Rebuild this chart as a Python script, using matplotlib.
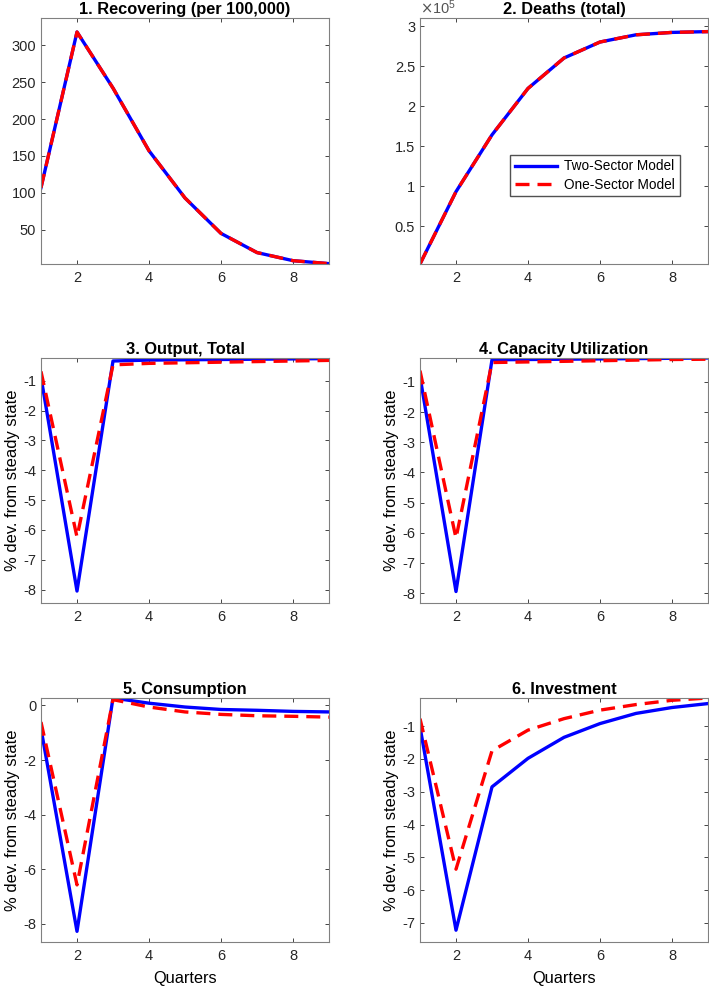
import numpy as np
import matplotlib
matplotlib.use("Agg")
import matplotlib.pyplot as plt
from matplotlib.ticker import ScalarFormatter

plt.rcParams['font.family'] = ['Liberation Sans', 'DejaVu Sans']
plt.rcParams['axes.unicode_minus'] = False

quarters = [1, 2, 3, 4, 5, 6, 7, 8, 9]

# panel data (two-sector = blue, one-sector = red)
recovering_two = [107, 318, 242, 157, 93, 45, 19, 8, 4]
recovering_one = [107, 318, 242, 157, 93, 45, 19, 8, 4]
deaths_two = [0.026e5, 0.93e5, 1.64e5, 2.22e5, 2.60e5, 2.80e5, 2.89e5, 2.92e5, 2.93e5]
deaths_one = [0.026e5, 0.93e5, 1.64e5, 2.22e5, 2.60e5, 2.80e5, 2.89e5, 2.92e5, 2.93e5]
output_two = [-0.88, -8.05, -0.34, -0.31, -0.30, -0.29, -0.28, -0.27, -0.26]
output_one = [-0.69, -6.24, -0.47, -0.42, -0.40, -0.38, -0.36, -0.34, -0.32]
capacity_two = [-0.82, -7.95, -0.27, -0.26, -0.25, -0.24, -0.23, -0.22, -0.21]
capacity_one = [-0.63, -6.18, -0.36, -0.34, -0.32, -0.30, -0.28, -0.26, -0.25]
consumption_two = [-0.85, -8.27, 0.27, 0.08, -0.06, -0.15, -0.18, -0.22, -0.24]
consumption_one = [-0.61, -6.57, 0.21, -0.06, -0.24, -0.33, -0.38, -0.40, -0.43]
investment_two = [-1.02, -7.22, -2.85, -1.98, -1.34, -0.92, -0.61, -0.43, -0.31]
investment_one = [-0.77, -5.36, -1.75, -1.12, -0.77, -0.51, -0.34, -0.21, -0.14]

titles = ['1. Recovering (per 100,000)', '2. Deaths (total)', '3. Output, Total',
          '4. Capacity Utilization', '5. Consumption', '6. Investment']
series = [(recovering_two, recovering_one), (deaths_two, deaths_one),
          (output_two, output_one), (capacity_two, capacity_one),
          (consumption_two, consumption_one), (investment_two, investment_one)]
ylims = [(3.5, 337), (0.026e5, 3.1e5), (-8.45, -0.24), (-8.33, -0.21),
         (-8.66, 0.27), (-7.58, -0.14)]
yticks = [[50, 100, 150, 200, 250, 300],
          [0.5e5, 1e5, 1.5e5, 2e5, 2.5e5, 3e5],
          [-8, -7, -6, -5, -4, -3, -2, -1],
          [-8, -7, -6, -5, -4, -3, -2, -1],
          [-8, -6, -4, -2, 0],
          [-7, -6, -5, -4, -3, -2, -1]]


class PlainSci(ScalarFormatter):
    # matlab style: 2.5, 2, 1.5 ... with x10^5 on top
    def _set_format(self):
        self.format = '%g'


W, H = 709, 986
fig = plt.figure(figsize=(W / 100, H / 100), dpi=100)

# axes boxes in pixels: left, top, right, bottom
boxes = [(41, 18, 329, 264), (420, 18, 708, 264),
         (41, 358, 329, 603), (420, 358, 708, 603),
         (41, 698, 329, 942), (420, 698, 708, 942)]

edge = '#262626'
for i, (l, t, r, b) in enumerate(boxes):
    ax = fig.add_axes([l / W, 1 - b / H, (r - l) / W, (b - t) / H])
    two, one = series[i]
    ax.plot(quarters, two, color='#0000ff', lw=2.4, label='Two-Sector Model')
    ax.plot(quarters, one, color='#ff0000', lw=2.4, ls=(0, (4.2, 2.4)), label='One-Sector Model')
    ax.set_xlim(1, 9)
    ax.set_ylim(*ylims[i])
    ax.set_xticks([2, 4, 6, 8])
    ax.set_yticks(yticks[i])
    ax.set_title(titles[i], fontsize=11.8, fontweight='bold', pad=3)
    ax.tick_params(direction='in', top=True, right=True, labelsize=10.5,
                   length=3, width=0.6, color=edge, labelcolor='#262626')
    ax.tick_params(axis='x', pad=5)
    for s in ax.spines.values():
        s.set_color('#808080')
        s.set_linewidth(0.8)
    if i == 1:
        fmt = PlainSci(useMathText=True)
        fmt.set_powerlimits((5, 5))
        ax.yaxis.set_major_formatter(fmt)
        ax.yaxis.get_offset_text().set_fontsize(10.5)
        ax.yaxis.get_offset_text().set_color('#555555')
        ax.legend(loc='upper left', bbox_to_anchor=(0.29, 0.472), fontsize=9.8,
                  handlelength=3.1, frameon=True, fancybox=False, edgecolor='#262626',
                  borderpad=0.35, labelspacing=0.3, handletextpad=0.5)
    if i >= 2:
        ax.set_ylabel('% dev. from steady state', fontsize=11.9, labelpad=2)
    if i >= 4:
        ax.set_xlabel('Quarters', fontsize=11.8, labelpad=6)

fig.savefig('out.png', dpi=100)
